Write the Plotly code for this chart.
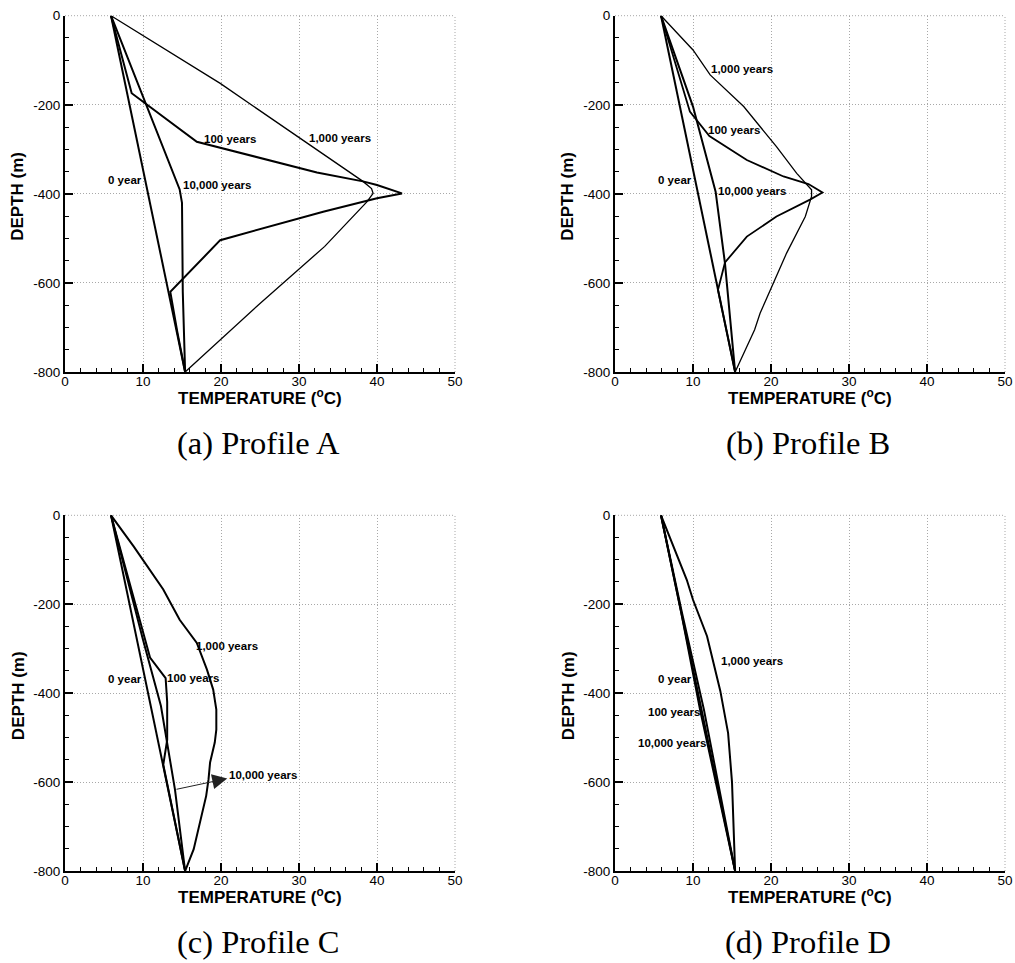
import plotly.graph_objects as go

# ---------------- data (temperature in °C, depth in m) ----------------
x_tickvals = [0, 10, 20, 30, 40, 50]
x_ticktext = ["0", "10", "20", "30", "40", "50"]
y_tickvals = [-800, -600, -400, -200, 0]
y_ticktext = ["-800", "-600", "-400", "-200", "0"]

# Profile A
a_yr0_t = [5.9, 15.4]
a_yr0_d = [0, -800]
a_yr100_t = [5.9, 8.55, 16.9, 32.3, 38.2, 40.0, 43.2, 40.0, 33.1, 19.9, 13.5, 14.4, 15.4]
a_yr100_d = [0, -174, -283, -352, -372, -380, -399, -410, -440, -504, -620, -710, -800]
a_yr1000_t = [5.9, 19.9, 38.2, 39.3, 39.5, 38.7, 33.3, 25.0, 15.4]
a_yr1000_d = [0, -152, -372, -388, -399, -418, -518, -646, -800]
a_yr10000_t = [5.9, 14.7, 15.0, 15.1, 15.4]
a_yr10000_d = [0, -390, -420, -620, -800]

# Profile B
b_yr0_t = [5.9, 15.4]
b_yr0_d = [0, -800]
b_yr100_t = [5.9, 9.6, 12.1, 16.9, 21.6, 24.8, 26.6, 25.0, 20.7, 16.9, 14.1, 13.2, 15.4]
b_yr100_d = [0, -215, -270, -324, -361, -378, -397, -413, -451, -496, -554, -616, -800]
b_yr1000_t = [5.9, 10.0, 12.2, 16.5, 20.7, 23.3, 25.2, 25.2, 24.4, 22.0, 18.6, 17.9, 15.4]
b_yr1000_d = [0, -77, -133, -204, -294, -354, -391, -406, -451, -533, -668, -705, -800]
b_yr10000_t = [5.9, 10.0, 12.9, 14.1, 15.4]
b_yr10000_d = [0, -204, -395, -556, -800]

# Profile C
c_yr0_t = [5.9, 15.4]
c_yr0_d = [0, -800]
c_yr100_t = [5.9, 10.3, 10.9, 12.9, 13.1, 13.1, 12.6, 15.4]
c_yr100_d = [0, -280, -320, -366, -420, -505, -561, -800]
c_yr1000_t = [5.9, 8.8, 12.6, 14.7, 16.9, 18.2, 19.0, 19.4, 19.4, 19.2, 18.6, 18.4, 18.1, 17.3, 16.5, 15.4]
c_yr1000_d = [0, -70, -167, -235, -287, -347, -392, -437, -482, -511, -556, -594, -631, -691, -751, -800]
c_yr10000_t = [5.9, 10.0, 12.3, 14.1, 15.4]
c_yr10000_d = [0, -280, -429, -617, -800]

# Profile D
d_yr0_t = [5.9, 15.4]
d_yr0_d = [0, -800]
d_yr100_t = [5.9, 8.6, 11.4, 15.4]
d_yr100_d = [0, -220, -437, -800]
d_yr1000_t = [5.9, 9.2, 10.0, 11.8, 13.5, 14.5, 15.0, 15.4]
d_yr1000_d = [0, -145, -190, -272, -395, -490, -600, -800]
d_yr10000_t = [5.9, 8.5, 10.9, 15.4]
d_yr10000_d = [0, -220, -437, -800]

# curve labels: (text, temperature, depth)
a_labels = [("100 years", 21.2, -277), ("1,000 years", 35.3, -275), ("0 year", 7.7, -368), ("10,000 years", 19.5, -381)]
b_labels = [("1,000 years", 16.3, -120), ("100 years", 15.3, -257), ("0 year", 7.7, -368), ("10,000 years", 17.6, -394)]
c_labels = [("1,000 years", 20.8, -294), ("100 years", 16.4, -367), ("0 year", 7.7, -368), ("10,000 years", 25.4, -585)]
d_labels = [("1,000 years", 17.6, -327), ("0 year", 7.7, -368), ("100 years", 7.6, -443), ("10,000 years", 7.3, -511)]
c_arrow_tail = (14.1, -617)
c_arrow_head = (20.8, -592)

captions = ["(a) Profile A", "(b) Profile B", "(c) Profile C", "(d) Profile D"]

# ---------------- layout geometry ----------------
W, H = 1015, 963
col_px = [(65, 455), (615, 1005)]
row_px = [(15.7, 372), (515.3, 871)]

fig = go.Figure()

panels = [
    ("x", "y", [(a_yr0_t, a_yr0_d, 2), (a_yr100_t, a_yr100_d, 2), (a_yr1000_t, a_yr1000_d, 1.3), (a_yr10000_t, a_yr10000_d, 2)], a_labels),
    ("x2", "y2", [(b_yr0_t, b_yr0_d, 2), (b_yr100_t, b_yr100_d, 1.8), (b_yr1000_t, b_yr1000_d, 1.3), (b_yr10000_t, b_yr10000_d, 2)], b_labels),
    ("x3", "y3", [(c_yr0_t, c_yr0_d, 2), (c_yr100_t, c_yr100_d, 2), (c_yr1000_t, c_yr1000_d, 2), (c_yr10000_t, c_yr10000_d, 2)], c_labels),
    ("x4", "y4", [(d_yr0_t, d_yr0_d, 2), (d_yr100_t, d_yr100_d, 2), (d_yr1000_t, d_yr1000_d, 2), (d_yr10000_t, d_yr10000_d, 2)], d_labels),
]

annotations = []
shapes = []
label_font = dict(family="Liberation Sans", size=11.5, color="black")
title_font = dict(family="Liberation Sans", size=17, color="black")
cap_font = dict(family="Liberation Serif", size=32.5, color="black")
grid_col = "#a8a8a8"
grid_dash = "1px,2px"

for i, (xa, ya, curves, labels) in enumerate(panels):
    col, row = i % 2, i // 2
    x0, x1 = col_px[col]
    y0, y1 = row_px[row]
    for t, d, w in curves:
        fig.add_trace(go.Scatter(x=t, y=d, mode="lines", xaxis=xa, yaxis=ya,
                                 line=dict(color="black", width=w), showlegend=False,
                                 hoverinfo="skip"))
    for txt, tx, ty in labels:
        annotations.append(dict(text="<b>%s</b>" % txt, x=tx, y=ty, xref=xa, yref=ya,
                                showarrow=False, font=label_font))
    xkey = "xaxis" if i == 0 else "xaxis%d" % (i + 1)
    ykey = "yaxis" if i == 0 else "yaxis%d" % (i + 1)
    common = dict(ticks="inside", ticklen=8, tickwidth=2, tickcolor="black",
                  showline=True, linewidth=2, linecolor="black",
                  showgrid=True, gridcolor=grid_col, griddash=grid_dash, gridwidth=1,
                  zeroline=False, fixedrange=True, automargin=False,
                  tickfont=dict(family="Liberation Sans", size=13.5, color="black"))
    fig.update_layout(**{
        xkey: dict(domain=[x0 / W, x1 / W], anchor=ya, range=[0, 50],
                   tickmode="array", tickvals=x_tickvals, ticktext=x_ticktext,
                   ticklabelstandoff=-4,
                   minor=dict(tickmode="linear", tick0=0, dtick=2, ticks="inside", ticklen=4,
                              tickwidth=1, tickcolor="black", showgrid=False),
                   **common),
        ykey: dict(domain=[1 - y1 / H, 1 - y0 / H], anchor=xa, range=[-800, 0],
                   tickmode="array", tickvals=y_tickvals, ticktext=y_ticktext,
                   minor=dict(tickmode="linear", tick0=0, dtick=50, ticks="inside", ticklen=4,
                              tickwidth=1, tickcolor="black", showgrid=False),
                   **common),
    })
    # dotted frame on top and right (grid lines at range edges)
    shapes.append(dict(type="line", xref=xa + " domain", yref=ya + " domain", x0=0, x1=1, y0=1, y1=1,
                       line=dict(color=grid_col, width=1, dash=grid_dash), layer="below"))
    shapes.append(dict(type="line", xref=xa + " domain", yref=ya + " domain", x0=1, x1=1, y0=0, y1=1,
                       line=dict(color=grid_col, width=1, dash=grid_dash), layer="below"))
    # axis titles and caption
    cx = (x0 + x1) / 2
    annotations.append(dict(text="<b>TEMPERATURE (<sup>o</sup>C)</b>", x=(cx) / W,
                            y=1 - (y1 + 25) / H, xref="paper", yref="paper",
                            showarrow=False, font=title_font, xanchor="center", yanchor="middle"))
    annotations.append(dict(text="<b>DEPTH (m)</b>", x=(x0 - 47) / W, y=1 - ((y0 + y1) / 2 + 3) / H,
                            xref="paper", yref="paper", textangle=-90, showarrow=False,
                            font=title_font, xanchor="center", yanchor="middle"))
    annotations.append(dict(text=captions[i], x=(cx -2) / W, y=1 - (y1 + 71) / H,
                            xref="paper", yref="paper", showarrow=False, font=cap_font,
                            xanchor="center", yanchor="middle"))

# arrow in panel C
annotations.append(dict(text=" ", x=c_arrow_head[0], y=c_arrow_head[1], xref="x3", yref="y3",
                        ax=c_arrow_tail[0], ay=c_arrow_tail[1], axref="x3", ayref="y3",
                        showarrow=True, arrowhead=2, arrowsize=3, arrowwidth=1,
                        arrowcolor="#222222", standoff=0, font=dict(size=1)))

fig.update_layout(width=W, height=H, margin=dict(l=0, r=0, t=0, b=0, autoexpand=False),
                  paper_bgcolor="white", plot_bgcolor="white",
                  annotations=annotations, shapes=shapes, showlegend=False)

fig.write_html("out.html", config={"displayModeBar": False},
               post_script="document.body.style.margin='0';document.body.style.overflow='hidden';")
